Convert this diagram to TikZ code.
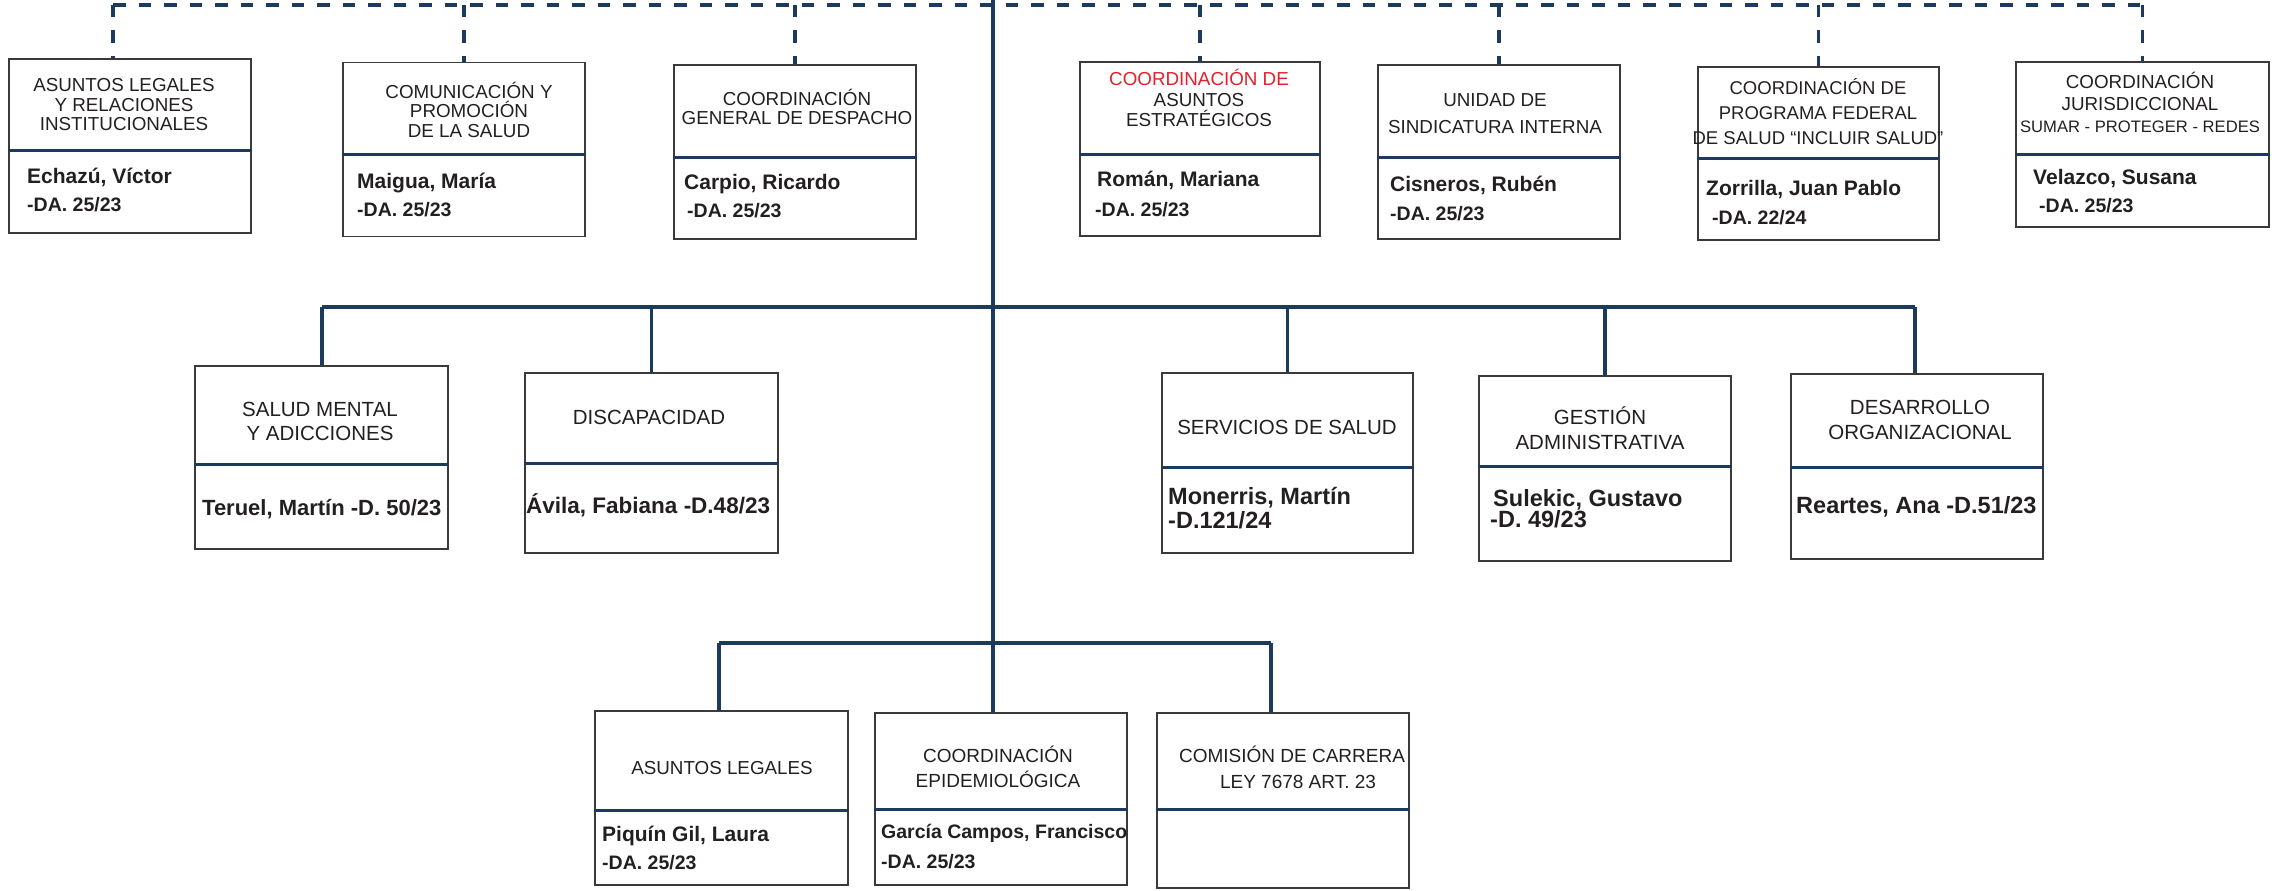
\documentclass[tikz,border=0pt]{standalone}
\usepackage{fontspec}
\setmainfont{Liberation Sans}
\definecolor{navy}{HTML}{1C3A5E}
\definecolor{boxgray}{HTML}{3A3A3A}
\definecolor{ink}{HTML}{231F20}
\definecolor{alert}{HTML}{E3202A}
\newcommand{\decr}[1]{{\fontsize{19.5}{28}\selectfont #1}}
\tikzset{
	box/.style={draw=boxgray, line width=1.6pt, inner sep=0pt},
	conn/.style={draw=navy, line width=3.2pt},
	dashconn/.style={draw=navy, line width=3.2pt, dash pattern=on 12.5pt off 13pt},
	divline/.style={draw=navy, line width=3pt},
	ttl/.style={inner sep=0pt, align=center, text=ink, font=\fontsize{18.8}{19.5}\selectfont},
	ttlmid/.style={ttl, font=\fontsize{20.5}{24}\selectfont},
	nm/.style={inner sep=0pt, anchor=west, align=left, text=ink, font=\bfseries\fontsize{21}{28}\selectfont},
	nmmid/.style={nm, font=\bfseries\fontsize{23.5}{24}\selectfont},
}
\begin{document}
\begin{tikzpicture}[x=1pt, y=-1pt]
		\useasboundingbox (0,0) rectangle (2272,891);
		% top row
		\node[box, minimum width=242, minimum height=174] (alri) at (130,146) {};
		\node[box, minimum width=242, minimum height=174] (comu) at (464,149.5) {};
		\node[box, minimum width=242, minimum height=174] (desp) at (795,152) {};
		\node[box, minimum width=240, minimum height=174] (estr) at (1200,149) {};
		\node[box, minimum width=242, minimum height=174] (sind) at (1499,152) {};
		\node[box, minimum width=241, minimum height=173] (prog) at (1818.5,153.5) {};
		\node[box, minimum width=253, minimum height=165] (juri) at (2142.5,144.5) {};
		% middle row
		\node[box, minimum width=253, minimum height=183] (salu) at (321.5,457.5) {};
		\node[box, minimum width=253, minimum height=180] (disc) at (651.5,463) {};
		\node[box, minimum width=251, minimum height=180] (serv) at (1287.5,463) {};
		\node[box, minimum width=252, minimum height=185] (gest) at (1605,468.5) {};
		\node[box, minimum width=252, minimum height=185] (desa) at (1917,466.5) {};
		% bottom row
		\node[box, minimum width=253, minimum height=174] (aleg) at (721.5,798) {};
		\node[box, minimum width=252, minimum height=172] (epid) at (1001,799) {};
		\node[box, minimum width=252, minimum height=175] (comi) at (1283,800.5) {};

		\foreach \b/\d in {alri/150, comu/154, desp/157, estr/154, sind/157, prog/158, juri/154,
			salu/464, disc/463, serv/467, gest/466, desa/467, aleg/810, epid/809, comi/809}
			\draw[divline] (\b.west |- 0,\d) -- (\b.east |- 0,\d);

		\coordinate (top) at (993,0);
		\coordinate (dashL) at (113,5);
		\coordinate (dashR) at (2143,5);
		\coordinate (midL) at (322,307);
		\coordinate (midR) at (1915,307);
		\coordinate (botL) at (719,643);
		\coordinate (botR) at (1271,643);

		\draw[dashconn] (dashL) -- (dashR);
		\draw[dashconn] (dashL) -- (dashL |- alri.north);
		\foreach \b in {comu,desp,estr,sind,prog,juri}
			\draw[dashconn] (\b.north |- dashL) -- (\b.north);
		\draw[conn] (top) -- (top |- epid.north);
		\draw[conn] (midL) -- (midR);
		\draw[conn] (midL) -- (midL |- salu.north);
		\foreach \b in {disc,serv,gest}
			\draw[conn] (\b.north |- midL) -- (\b.north);
		\draw[conn] (midR) -- (midR |- desa.north);
		\draw[conn] (botL) -- (botR);
		\draw[conn] (botL) -- (botL |- aleg.north);
		\draw[conn] (botR) -- (botR |- comi.north);

		\node[ttl] (alri-t) at (124,105) {ASUNTOS LEGALES\\Y RELACIONES\\INSTITUCIONALES};
		\node[nm] (alri-n) at (27,190) {Echazú, Víctor\\\decr{-DA. 25/23}};
		\node[ttl] (comu-t) at (469,109.5) {COMUNICACIÓN Y\\PROMOCIÓN\\DE LA SALUD};
		\node[nm] (comu-n) at (357,194.5) {Maigua, María\\\decr{-DA. 25/23}};
		\node[ttl] (desp-t) at (797,107) {COORDINACIÓN\\GENERAL DE DESPACHO};
		\node[nm] (desp-n) at (684,196) {Carpio, Ricardo\\\hspace*{3pt}\decr{-DA. 25/23}};
		\node[ttl, font=\fontsize{18.8}{20.5}\selectfont] (estr-t) at (1199,98) {\textcolor{alert}{COORDINACIÓN DE}\\ASUNTOS\\ESTRATÉGICOS};
		\node[nm, font=\bfseries\fontsize{21}{30}\selectfont] (estr-n) at (1095,193.5) {\hspace*{2pt}Román, Mariana\\\decr{-DA. 25/23}};
		\node[ttl, font=\fontsize{18.8}{27}\selectfont] (sind-t) at (1495,113.5) {UNIDAD DE\\SINDICATURA INTERNA};
		\node[nm, font=\bfseries\fontsize{21}{29}\selectfont] (sind-n) at (1390,198.5) {Cisneros, Rubén\\\decr{-DA. 25/23}};
		\node[ttl, font=\fontsize{18.5}{25}\selectfont] (prog-t) at (1818,112) {COORDINACIÓN DE\\PROGRAMA FEDERAL\\DE SALUD “INCLUIR SALUD”};
		\node[nm, font=\bfseries\fontsize{21}{29}\selectfont] (prog-n) at (1706,202.5) {Zorrilla, Juan Pablo\\\hspace*{6pt}\decr{-DA. 22/24}};
		\node[ttl, font=\fontsize{18.8}{22}\selectfont] (juri-t) at (2140,102) {COORDINACIÓN\\JURISDICCIONAL\\{\fontsize{16.6}{22}\selectfont SUMAR - PROTEGER - REDES}};
		\node[nm] (juri-n) at (2033,191) {Velazco, Susana\\\hspace*{6pt}\decr{-DA. 25/23}};

		\node[ttlmid] (salu-t) at (320,421) {SALUD MENTAL\\Y ADICCIONES};
		\node[nmmid, font=\bfseries\fontsize{22}{24}\selectfont] (salu-n) at (202,509) {Teruel, Martín -D. 50/23};
		\node[ttlmid] (disc-t) at (649,417) {DISCAPACIDAD};
		\node[nmmid, font=\bfseries\fontsize{22.5}{24}\selectfont] (disc-n) at (526,505) {Ávila, Fabiana -D.48/23};
		\node[ttlmid] (serv-t) at (1287,427) {SERVICIOS DE SALUD};
		\node[nmmid] (serv-n) at (1168,508) {Monerris, Martín\\-D.121/24};
		\node[ttlmid, font=\fontsize{20.5}{25}\selectfont] (gest-t) at (1600,428.5) {GESTIÓN\\ADMINISTRATIVA};
		\node[nmmid, font=\bfseries\fontsize{23.5}{21}\selectfont] (gest-n) at (1490,508.5) {\hspace*{3pt}Sulekic, Gustavo\\-D. 49/23};
		\node[ttlmid, font=\fontsize{20.5}{25}\selectfont] (desa-t) at (1920,419.5) {DESARROLLO\\ORGANIZACIONAL};
		\node[nmmid] (desa-n) at (1796,507) {Reartes, Ana -D.51/23};

		\node[ttl] (aleg-t) at (722,768) {ASUNTOS LEGALES};
		\node[nm] (aleg-n) at (602,848) {Piquín Gil, Laura\\\decr{-DA. 25/23}};
		\node[ttl, font=\fontsize{19}{25}\selectfont] (epid-t) at (998,767) {COORDINACIÓN\\EPIDEMIOLÓGICA};
		\node[nm, font=\bfseries\fontsize{19.5}{30}\selectfont] (epid-n) at (881,846.5) {García Campos, Francisco\\\decr{-DA. 25/23}};
		\node[ttl, font=\fontsize{19}{26}\selectfont] (comi-t) at (1292,767.5) {COMISIÓN DE CARRERA\\\hspace*{12pt}LEY 7678 ART. 23};
\end{tikzpicture}
\end{document}
